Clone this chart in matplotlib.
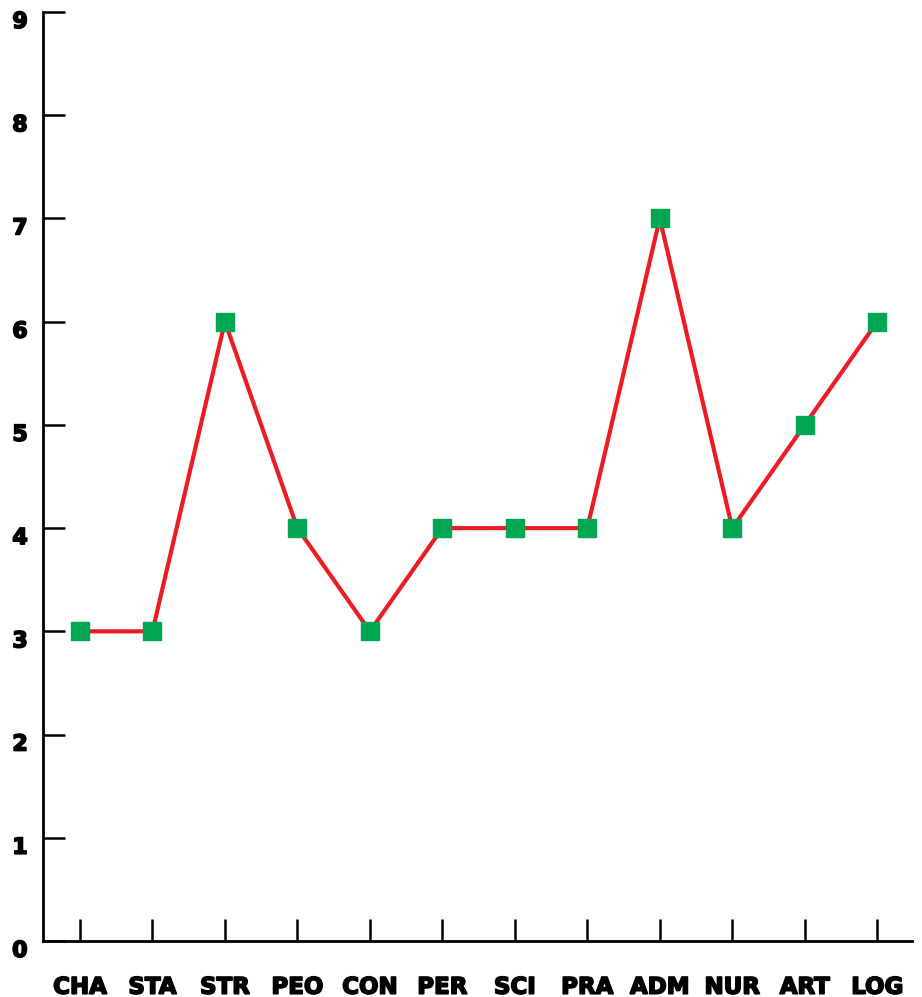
import matplotlib
matplotlib.use("Agg")
import matplotlib.pyplot as plt
import matplotlib.patheffects as pe

categories = ["CHA", "STA", "STR", "PEO", "CON", "PER", "SCI", "PRA", "ADM", "NUR", "ART", "LOG"]
values = [3, 3, 6, 4, 3, 4, 4, 4, 7, 4, 5, 6]
yticks = list(range(0, 10))

plt.rcParams['font.family'] = ['DejaVu Sans']
fig = plt.figure(figsize=(9.22, 9.97), dpi=100)
W, H = 922, 997
ax = fig.add_axes([43 / W, (H - 941) / H, (912 - 43) / W, (941 - 12) / H])

x = list(range(len(categories)))
ax.plot(x, values, color="#ED1C24", linewidth=3.0, zorder=2)
ax.plot(x, values, linestyle="none", marker="s", markersize=13,
        markerfacecolor="#00A651", markeredgecolor="#00A651", zorder=3)

ax.set_xlim(-0.51, 11.48)
ax.set_ylim(0, 9)
ax.set_xticks(x)
ax.set_xticklabels(categories, fontsize=16.5, fontweight="heavy")
ax.set_yticks(yticks)
ax.set_yticklabels([str(v) for v in yticks], fontsize=16, fontweight="heavy", va="top")

for s in ["top", "right"]:
    ax.spines[s].set_visible(False)
for s in ["left", "bottom"]:
    ax.spines[s].set_linewidth(2.0)
    ax.spines[s].set_color("black")

ax.tick_params(axis="x", direction="in", length=16, width=1.8, pad=25)
ax.tick_params(axis="y", direction="in", length=16, width=1.8, pad=11)

for lab in ax.get_xticklabels() + ax.get_yticklabels():
    lab.set_path_effects([pe.withStroke(linewidth=1.2, foreground="black")])

fig.savefig("out.png", dpi=100)
